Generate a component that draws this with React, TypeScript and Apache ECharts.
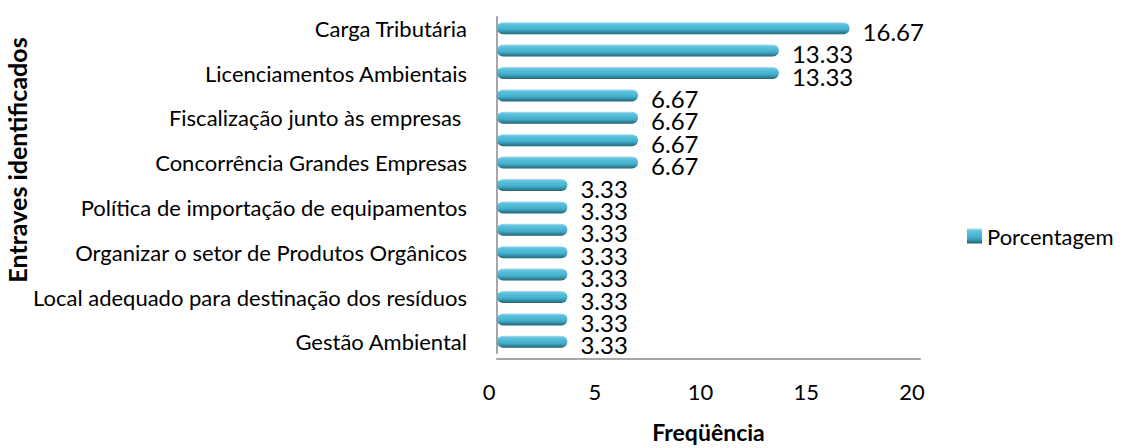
import React, { useEffect, useRef } from "react";
import * as echarts from "echarts";

const categories = [
  "Carga Tributária",
  "Entrave 2",
  "Licenciamentos Ambientais",
  "Entrave 4",
  "Fiscalização junto às empresas ",
  "Entrave 6",
  "Concorrência Grandes Empresas",
  "Entrave 8",
  "Política de importação de equipamentos",
  "Entrave 10",
  "Organizar o setor de Produtos Orgânicos",
  "Entrave 12",
  "Local adequado para destinação dos resíduos",
  "Entrave 14",
  "Gestão Ambiental",
];
const values = [16.67, 13.33, 13.33, 6.67, 6.67, 6.67, 6.67, 3.33, 3.33, 3.33, 3.33, 3.33, 3.33, 3.33, 3.33];
const seriesName = "Porcentagem";
const xTitle = "Freqüência";
const yTitle = "Entraves identificados";
const xMin = 0;
const xMax = 20;
const xStep = 5;

const FONT = "Lato, 'Noto Sans', sans-serif";

export default function App() {
  const ref = useRef<HTMLDivElement>(null);
  useEffect(() => {
    document.body.style.margin = "0";
    const chart = echarts.init(ref.current!, null, { renderer: "svg" });
    const barGrad = new echarts.graphic.LinearGradient(0, 0, 0, 1, [
      { offset: 0, color: "#a6dcec" },
      { offset: 0.18, color: "#5cc3df" },
      { offset: 0.6, color: "#44aecb" },
      { offset: 0.85, color: "#2f8499" },
      { offset: 1, color: "#1f5f70" },
    ]);
    chart.setOption({
      animation: false,
      textStyle: { fontFamily: FONT },
      grid: { left: 497, right: 206, top: 17, bottom: 94, containLabel: false },
      legend: {
        data: [seriesName],
        left: 962,
        top: 220,
        icon: "rect",
        itemWidth: 15,
        itemHeight: 15,
        itemGap: 4,
        textStyle: { fontFamily: FONT, fontSize: 22, color: "#000", padding: [0, 0, 0, 0] },
      },
      xAxis: {
        type: "value",
        min: xMin,
        max: xMax,
        interval: xStep,
        offset: 6,
        name: xTitle,
        nameLocation: "middle",
        nameGap: 61,
        nameTextStyle: { fontFamily: FONT, fontSize: 23, fontWeight: "bold", color: "#000" },
        axisLine: { show: true, lineStyle: { color: "#a6a6a6", width: 2 } },
        axisTick: { show: false },
        splitLine: { show: false },
        axisLabel: { margin: 21, fontFamily: FONT, fontSize: 22, color: "#000", padding: [0, 16, 0, 0] },
      },
      yAxis: {
        type: "category",
        data: categories,
        inverse: true,
        offset: 7,
        axisLine: { show: true, lineStyle: { color: "#a6a6a6", width: 2 } },
        axisTick: { show: false },
        axisLabel: { interval: 1, margin: 23, fontFamily: FONT, fontSize: 22, lineHeight: 22, color: "#000" },
      },
      graphic: [
        {
          type: "text",
          x: 17,
          y: 160,
          rotation: Math.PI / 2,
          style: {
            text: yTitle,
            align: "center",
            verticalAlign: "middle",
            font: `bold 25px ${FONT}`,
            fill: "#000",
          },
        },
      ],
      series: [
        {
          name: seriesName,
          type: "bar",
          data: values,
          barWidth: 12,
          itemStyle: { color: barGrad, borderRadius: 6 },
          label: {
            show: true,
            position: "right",
            distance: 13,
            offset: [0, 3],
            fontFamily: FONT,
            fontSize: 24,
            lineHeight: 17,
            color: "#000",
            formatter: (p: any) => p.value.toFixed(2),
          },
        },
      ],
    });
    return () => chart.dispose();
  }, []);
  return <div ref={ref} style={{ width: 1126, height: 448 }} />;
}
